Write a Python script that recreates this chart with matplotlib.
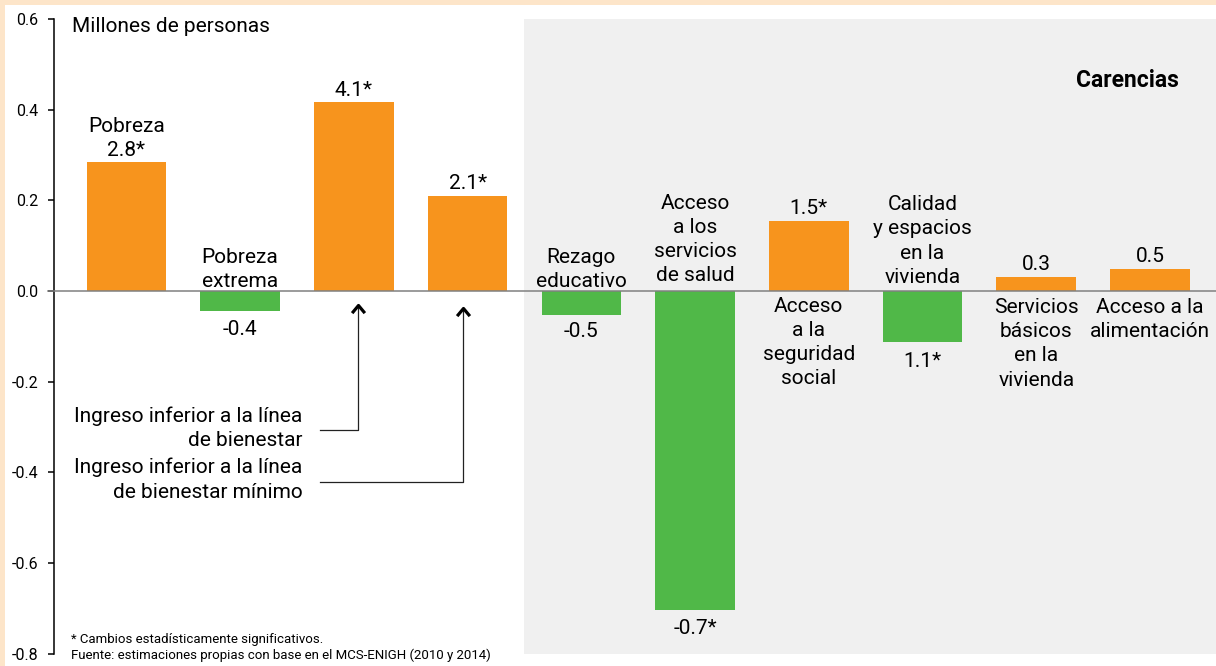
import numpy as np
import matplotlib
matplotlib.use("Agg")
import matplotlib.pyplot as plt
from matplotlib.patches import Rectangle
from matplotlib.path import Path

plt.rcParams['font.family'] = ['Roboto', 'DejaVu Sans']

# bar heights (millones de personas, scaled as drawn)
categories = ["Pobreza", "Pobreza\nextrema", "Ingreso inferior a la línea\nde bienestar",
              "Ingreso inferior a la línea\nde bienestar mínimo", "Rezago\neducativo",
              "Acceso\na los\nservicios\nde salud", "Acceso\na la\nseguridad\nsocial",
              "Calidad\ny espacios\nen la\nvivienda", "Servicios\nbásicos\nen la\nvivienda",
              "Acceso a la\nalimentación"]
values = [0.285, -0.043, 0.416, 0.21, -0.053, -0.704, 0.155, -0.112, 0.032, 0.049]
value_labels = ["2.8*", "-0.4", "4.1*", "2.1*", "-0.5", "-0.7*", "1.5*", "1.1*", "0.3", "0.5"]
yticks = [-0.8, -0.6, -0.4, -0.2, 0.0, 0.2, 0.4, 0.6]

ORANGE = '#F7941D'
GREEN = '#50B848'
GRAY_BG = '#F0F0F0'
PEACH = '#FDE5C9'

fig = plt.figure(figsize=(12.16, 6.66), dpi=100)
fig.patch.set_facecolor('white')
fig.patches.append(Rectangle((0, 1 - 5 / 666), 1, 5 / 666, transform=fig.transFigure,
                             facecolor=PEACH, edgecolor='none', zorder=-10))
fig.patches.append(Rectangle((0, 0), 5 / 1216, 1, transform=fig.transFigure,
                             facecolor=PEACH, edgecolor='none', zorder=-10))

ax = fig.add_axes([54 / 1216, 1 - 653.7 / 666, 1 - 54 / 1216, (653.7 - 19) / 666])
ax.set_facecolor('none')

x = np.arange(len(values))
xmax = 9.58
ax.set_xlim(-0.636, xmax)
ax.set_ylim(-0.8, 0.6)
ax.axvspan(3.5, xmax, color=GRAY_BG, zorder=0, lw=0)

colors = [ORANGE if v > 0 else GREEN for v in values]
ax.bar(x, values, width=0.7, color=colors, zorder=2)
ax.plot([-0.69, xmax], [0, 0], color='#808080', lw=1.1, zorder=3, clip_on=False)

for s in ['top', 'right', 'bottom']:
    ax.spines[s].set_visible(False)
ax.spines['left'].set_linewidth(1.1)
ax.set_xticks([])
ax.set_yticks(yticks)
ax.set_yticklabels([f"{t:.1f}" for t in yticks])
ax.tick_params(axis='y', length=4.3, width=1.1, pad=7, labelsize=11.5)

fs = 15
LS = 1.35
txt = dict(ha='center', fontsize=fs, linespacing=LS, textcoords='offset points')

# value labels above/below bars
above_off = [1, 0, 2, 2, 0, 0, 2, 0, 2, 2]
below_off = [0, 7, 0, 0, 5, 6, 0, 7, 0, 0]
for i, (v, lab) in enumerate(zip(values, value_labels)):
    if v > 0:
        t = lab if i != 0 else "Pobreza\n" + lab
        ax.annotate(t, (x[i], v), xytext=(0, above_off[i]), va='bottom', **txt)
    else:
        ax.annotate(lab, (x[i], v), xytext=(0, -below_off[i]), va='top', **txt)

# category labels next to the zero line
for i, off in [(1, 0), (4, 0), (5, 4), (7, 3)]:
    ax.annotate(categories[i], (x[i], 0), xytext=(0, off), va='bottom', **txt)
for i, off in [(6, 4), (8, 5), (9, 5)]:
    ax.annotate(categories[i], (x[i], 0), xytext=(0, -off), va='top', **txt)

# income-line callouts
chev = Path([(-0.5, -0.6), (0, 0), (0.5, -0.6)], [Path.MOVETO, Path.LINETO, Path.LINETO])
px_x = 113.74
px_y = 453.0
callouts = [(2, 4 / px_x, -139 / px_y, -14 / px_y, -137 / px_y),
            (3, -5 / px_x, -191 / px_y, -17 / px_y, -188.5 / px_y)]
for i, dx, line_y, tip_y, text_y in callouts:
    ax_x = x[i] + dx
    x0 = x[0] + (320 - 126.3) / px_x
    ax.plot([x0, ax_x, ax_x], [line_y, line_y, tip_y], color='#222222', lw=0.9, zorder=4)
    ax.plot([ax_x], [tip_y], marker=chev, ms=11, mew=2.3, mfc='none', color='black', zorder=5)
    ax.text(x[0] + (302.7 - 126.3) / px_x, text_y, categories[i], ha='right', va='center',
            fontsize=fs, linespacing=LS, zorder=5)

fig.text(72 / 1216, 1 - 32 / 666, "Millones de personas", fontsize=fs, va='baseline')
fig.text(1179 / 1216, 1 - 87 / 666, "Carencias", fontsize=16.5, fontweight='bold',
         ha='right', va='baseline')
fig.text(71 / 1216, 1 - 643 / 666, "* Cambios estadísticamente significativos.",
         fontsize=9.5, va='baseline')
fig.text(71 / 1216, 1 - 659 / 666, "Fuente: estimaciones propias con base en el MCS-ENIGH (2010 y 2014)",
         fontsize=9.5, va='baseline')

fig.savefig("out.png", dpi=100)
